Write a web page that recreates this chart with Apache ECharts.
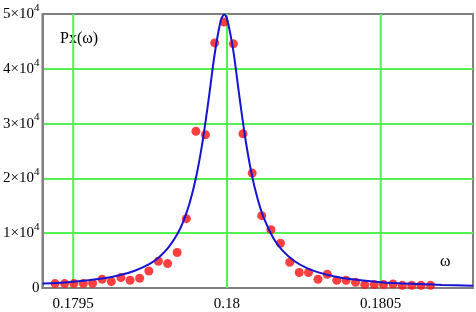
<!DOCTYPE html>
<html>
<head>
<meta charset="utf-8">
<script src="https://cdn.jsdelivr.net/npm/echarts@6/dist/echarts.min.js"></script>
<style>
  html, body { margin: 0; padding: 0; background: #fff; }
  #chart { width: 476px; height: 312px; }
</style>
</head>
<body>
<div id="chart"></div>
<script>
// measured points (omega, Px)
var dotX = [0.179441, 0.179472, 0.179502, 0.179533, 0.179563, 0.179594, 0.179624, 0.179655,
  0.179685, 0.179716, 0.179746, 0.179777, 0.179807, 0.179838, 0.179868, 0.179899, 0.179930,
  0.179960, 0.179991, 0.180021, 0.180052, 0.180082, 0.180113, 0.180143, 0.180174, 0.180204,
  0.180235, 0.180265, 0.180296, 0.180326, 0.180357, 0.180387, 0.180418, 0.180448, 0.180479,
  0.180509, 0.180540, 0.180570, 0.180601, 0.180631, 0.180662];
var dotY = [800, 810, 800, 830, 860, 1590, 1170, 1900, 1410, 1770, 3110, 4880, 4460, 6470,
  12650, 28590, 27970, 44730, 48520, 44550, 28150, 20970, 13200, 10640, 8170, 4700, 2820,
  2820, 1590, 2500, 1410, 1410, 1040, 620, 620, 620, 730, 490, 490, 490, 490];

// fitted curve
var curveX = [0.17940, 0.17950, 0.17960, 0.17965, 0.17970, 0.17975, 0.17978, 0.17981, 0.17984,
  0.17986, 0.17988, 0.17990, 0.17992, 0.17994, 0.17996, 0.17998, 0.179991, 0.18000, 0.18002,
  0.18004, 0.18006, 0.18008, 0.18010, 0.18012, 0.18015, 0.18018, 0.18022, 0.18026, 0.18030,
  0.18035, 0.18040, 0.18050, 0.18060, 0.18070, 0.18080];
var curveY = [800, 1150, 1790, 2330, 3150, 4460, 5660, 7400, 9980, 12440, 15790, 20340, 26490,
  34270, 42700, 48860, 49900, 49200, 43490, 35110, 27190, 20880, 16180, 12730, 9180, 6870,
  4890, 3640, 2810, 2110, 1640, 1070, 755, 560, 430];

var xTicks = [0.1795, 0.18, 0.1805];

var chart = echarts.init(document.getElementById('chart'));

var dots = dotX.map(function (x, i) { return [x, dotY[i]]; });
var curve = curveX.map(function (x, i) { return [x, curveY[i]]; });

var green = '#55f055';
var grey = '#808080';
var serif = '"Liberation Serif", "Times New Roman", serif';

// vertical grid lines, one small line series per x tick
var gridSeries = xTicks.map(function (t) {
  return {
    type: 'line',
    data: [[t, 0], [t, 50000]],
    showSymbol: false,
    silent: true,
    lineStyle: { color: green, width: 2 },
    z: 1
  };
});

var option = {
  animation: false,
  backgroundColor: '#fff',
  grid: {
    left: 41, top: 14, right: 3, bottom: 23,
    show: true, borderColor: grey, borderWidth: 2
  },
  xAxis: {
    type: 'value',
    min: 0.1794,
    max: 0.1808,
    axisLine: { show: true, onZero: false, lineStyle: { color: grey, width: 2 } },
    axisTick: { show: false },
    splitLine: { show: false },
    axisLabel: {
      customValues: xTicks,
      color: '#000',
      fontFamily: serif,
      fontSize: 15,
      margin: 9,
      formatter: function (v) { return String(+(+v).toFixed(4)); }
    }
  },
  yAxis: {
    type: 'value',
    min: 0,
    max: 50000,
    interval: 10000,
    axisLine: { show: true, lineStyle: { color: grey, width: 2 } },
    axisTick: { show: false },
    splitLine: { show: true, showMinLine: false, showMaxLine: false, lineStyle: { color: green, width: 2 } },
    axisLabel: {
      color: '#000',
      fontFamily: serif,
      fontSize: 15,
      margin: 3,
      formatter: function (v) {
        if (v === 0) return '{b|0}';
        return '{b|' + (v / 10000) + '\u00d710}{s|4}';
      },
      rich: {
        b: { fontFamily: serif, fontSize: 15, color: '#000' },
        s: { fontFamily: serif, fontSize: 11, color: '#000', padding: [0, 0, 12, 0] }
      }
    }
  },
  series: gridSeries.concat([
    {
      type: 'scatter',
      data: dots,
      symbol: 'circle',
      symbolSize: 9,
      itemStyle: { color: '#ff1010' },
      z: 3
    },
    {
      type: 'line',
      data: curve,
      smooth: 0.3,
      showSymbol: false,
      lineStyle: { color: '#1414d2', width: 2 },
      z: 4
    }
  ]),
  graphic: [
    { type: 'text', left: 60, top: 31, style: { text: 'Px(\u03c9)', font: '16px ' + serif, fill: '#000' } },
    { type: 'text', left: 440, top: 254, style: { text: '\u03c9', font: '16px ' + serif, fill: '#000' } }
  ]
};

chart.setOption(option);
</script>
</body>
</html>
